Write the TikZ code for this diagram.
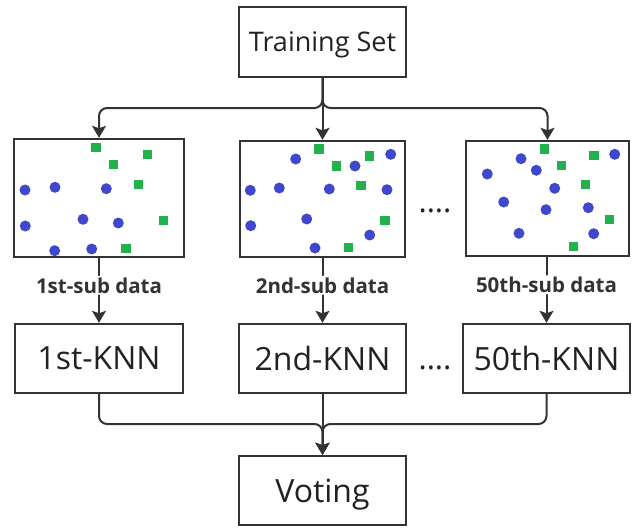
\documentclass[tikz,border=0pt]{standalone}
\usepackage{fontspec}
\setmainfont{Open Sans}
\usetikzlibrary{arrows.meta}
\definecolor{ink}{HTML}{333333}
\definecolor{txt}{HTML}{222222}
\definecolor{ptblue}{HTML}{3F48CC}
\definecolor{ptgreen}{HTML}{22B14C}
\tikzset{
  box/.style={draw=ink, line width=2.4pt, fill=white, inner sep=0pt, text=txt, text depth=0pt},
  bigtext/.style={font=\fontsize{32}{38}\selectfont},
  midtext/.style={font=\fontsize{27}{32}\selectfont},
  sublabel/.style={fill=white, inner sep=1.5pt, text=ink, font=\bfseries\fontsize{20.5}{24}\selectfont},
  dotsep/.style={text=txt, inner sep=0pt, font=\fontsize{31}{38}\selectfont},
  wire/.style={draw=ink, line width=2pt, rounded corners=8pt},
  arr/.style={wire, -{Stealth[length=12pt, width=14pt, inset=2.5pt]}},
  pt/.style={fill=ptblue, draw=none},
  sq/.style={fill=ptgreen, draw=none},
}
\newcommand{\bdot}[1]{\fill[pt] #1 circle (5.5);}
\newcommand{\gsq}[1]{\fill[sq] #1 ++(-4.7,-4.7) rectangle ++(9.4,9.4);}
\begin{document}
\begin{tikzpicture}[x=1pt, y=-1pt]
\useasboundingbox (0,0) rectangle (638,528);

% main boxes
\node[box, midtext, minimum width=167, minimum height=70] (ts) at (322.5,42) {Training Set};

\node[box, minimum width=170, minimum height=118] (d1) at (99,198) {};
\node[box, minimum width=165, minimum height=116] (d2) at (322.5,199) {};
\node[box, minimum width=163, minimum height=115] (d3) at (547.5,198.5) {};

\node[box, bigtext, minimum width=168, minimum height=69] (k1) at (99,358.5) {1st-KNN};
\node[box, bigtext, minimum width=167, minimum height=69] (k2) at (322.5,358.5) {2nd-KNN};
\node[box, bigtext, minimum width=167, minimum height=69] (k3) at (546.5,358.5) {50th-KNN};

\node[box, bigtext, minimum width=167, minimum height=69] (vote) at (322.5,490.5) {Voting};

% ellipses between columns
\node[dotsep, anchor=base] (e1) at (435,212) {....};
\node[dotsep, anchor=base] (e2) at (435,369) {....};

% split from the training set
\draw[arr] (ts.south) |- (99,108) -- (d1.north);
\draw[arr] (ts.south) |- (547.5,108) -- (d3.north);
\draw[arr] (ts.south) -- (d2.north);

% subsets to classifiers
\draw[arr] (d1.south) -- (k1.north) node[sublabel, pos=0.42] (l1) {1st-sub data};
\draw[arr] (d2.south) -- (k2.north) node[sublabel, pos=0.42] (l2) {2nd-sub data};
\draw[arr] (d3.south -| k3.north) -- (k3.north) node[sublabel, pos=0.42] (l3) {50th-sub data};

% merge into voting
\draw[arr] (k1.south) |- (322.5,424) -- (vote.north);
\draw[arr] (k3.south) |- (322.5,424) -- (vote.north);
\draw[arr] (k2.south) -- (vote.north);

% subset 1 samples
\gsq{(96,147.3)} \gsq{(147.7,154.7)} \gsq{(113.3,164.7)} \gsq{(138.3,184.7)} \gsq{(163.3,220.7)} \gsq{(126,248.7)}
\bdot{(25,190)} \bdot{(55,187.3)} \bdot{(106.3,188.7)} \bdot{(25.3,226)} \bdot{(83,219.3)} \bdot{(118.3,223)} \bdot{(54.7,250.7)} \bdot{(91.7,249)}

% subset 2 samples
\gsq{(319,149)} \gsq{(336.3,166)} \gsq{(369.7,156)} \gsq{(361,185.7)} \gsq{(385,220.7)} \gsq{(348.7,247.7)}
\bdot{(295.7,159)} \bdot{(355,166)} \bdot{(390.7,154.3)} \bdot{(250.3,190.3)} \bdot{(279.3,188)} \bdot{(329.3,189)} \bdot{(387,189.7)} \bdot{(250.7,225.7)} \bdot{(306.7,219)} \bdot{(369.7,235)} \bdot{(315,248)}

% subset 50 samples
\gsq{(544.7,149)} \gsq{(594,155.7)} \gsq{(561.3,165.3)} \gsq{(585.3,184.3)} \gsq{(609.7,219.3)} \gsq{(573.3,246.3)}
\bdot{(521,158.7)} \bdot{(614.7,154.3)} \bdot{(536.3,170.3)} \bdot{(487.3,174)} \bdot{(554.7,188.3)} \bdot{(503.7,202)} \bdot{(546,209.7)} \bdot{(588.3,207.7)} \bdot{(519,233.3)} \bdot{(593.7,233.7)}
\end{tikzpicture}
\end{document}
